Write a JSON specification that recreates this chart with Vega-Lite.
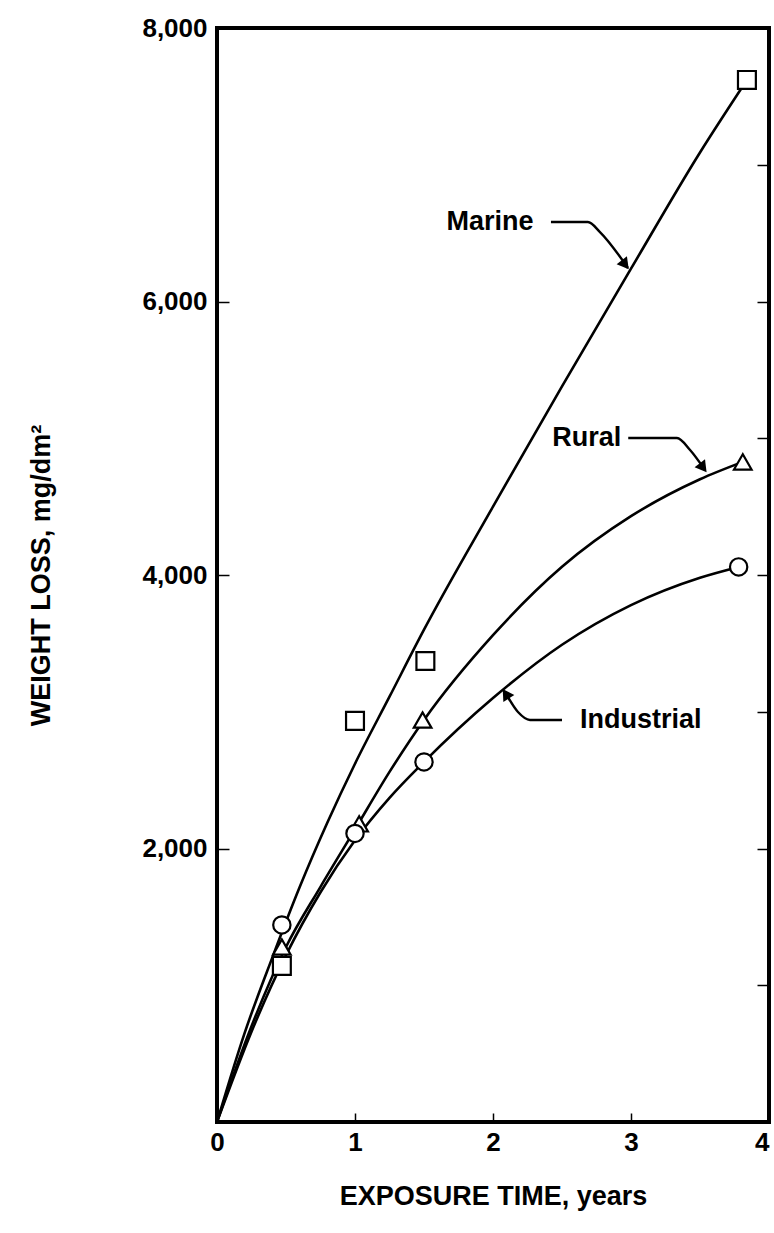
{
  "$schema": "https://vega.github.io/schema/vega-lite/v6.json",
  "width": 552,
  "height": 1094,
  "autosize": {"type": "none"},
  "padding": {"left": 217, "top": 28, "right": 5, "bottom": 111},
  "background": "white",
  "config": {
    "view": {"stroke": "black", "strokeWidth": 4},
    "font": "Liberation Sans",
    "axis": {
      "domain": false,
      "grid": false,
      "tickColor": "black",
      "labelFont": "Liberation Sans",
      "labelFontWeight": "bold",
      "labelColor": "black",
      "titleFont": "Liberation Sans",
      "titleFontWeight": "bold",
      "titleColor": "black"
    }
  },
  "datasets": {
    "curves": [
      {"series": "Marine", "x": 0, "y": 0},
      {"series": "Marine", "x": 0.2, "y": 650},
      {"series": "Marine", "x": 0.4, "y": 1200},
      {"series": "Marine", "x": 0.6, "y": 1720},
      {"series": "Marine", "x": 0.8, "y": 2190},
      {"series": "Marine", "x": 1.0, "y": 2620},
      {"series": "Marine", "x": 1.25, "y": 3110},
      {"series": "Marine", "x": 1.5, "y": 3600},
      {"series": "Marine", "x": 2.0, "y": 4500},
      {"series": "Marine", "x": 2.5, "y": 5380},
      {"series": "Marine", "x": 3.0, "y": 6240},
      {"series": "Marine", "x": 3.5, "y": 7090},
      {"series": "Marine", "x": 3.84, "y": 7620},
      {"series": "Rural", "x": 0, "y": 0},
      {"series": "Rural", "x": 0.25, "y": 700},
      {"series": "Rural", "x": 0.5, "y": 1280},
      {"series": "Rural", "x": 0.75, "y": 1720},
      {"series": "Rural", "x": 1.0, "y": 2140},
      {"series": "Rural", "x": 1.25, "y": 2560},
      {"series": "Rural", "x": 1.5, "y": 2940},
      {"series": "Rural", "x": 2.0, "y": 3560},
      {"series": "Rural", "x": 2.5, "y": 4060},
      {"series": "Rural", "x": 3.0, "y": 4430},
      {"series": "Rural", "x": 3.5, "y": 4700},
      {"series": "Rural", "x": 3.81, "y": 4827},
      {"series": "Industrial", "x": 0, "y": 0},
      {"series": "Industrial", "x": 0.25, "y": 660},
      {"series": "Industrial", "x": 0.5, "y": 1220},
      {"series": "Industrial", "x": 0.75, "y": 1680},
      {"series": "Industrial", "x": 1.0, "y": 2060},
      {"series": "Industrial", "x": 1.25, "y": 2370},
      {"series": "Industrial", "x": 1.5, "y": 2633},
      {"series": "Industrial", "x": 2.0, "y": 3100},
      {"series": "Industrial", "x": 2.5, "y": 3490},
      {"series": "Industrial", "x": 3.0, "y": 3780},
      {"series": "Industrial", "x": 3.5, "y": 3980},
      {"series": "Industrial", "x": 3.78, "y": 4059}
    ],
    "measured": [
      {"series": "Marine", "x": 0.47, "y": 1141},
      {"series": "Marine", "x": 1.0, "y": 2933},
      {"series": "Marine", "x": 1.51, "y": 3371},
      {"series": "Marine", "x": 3.84, "y": 7620},
      {"series": "Rural", "x": 0.47, "y": 1280},
      {"series": "Rural", "x": 1.03, "y": 2180},
      {"series": "Rural", "x": 1.49, "y": 2940},
      {"series": "Rural", "x": 3.81, "y": 4827},
      {"series": "Industrial", "x": 0.47, "y": 1441},
      {"series": "Industrial", "x": 1.0, "y": 2110},
      {"series": "Industrial", "x": 1.5, "y": 2633},
      {"series": "Industrial", "x": 3.78, "y": 4059}
    ],
    "labels": [
      {"text": "Marine", "x": 1.978, "y": 6581},
      {"text": "Rural", "x": 2.68, "y": 5002},
      {"text": "Industrial", "x": 3.07, "y": 2940}
    ],
    "leaders": [
      {"id": "Marine", "o": 1, "x": 2.42, "y": 6581},
      {"id": "Marine", "o": 2, "x": 2.688, "y": 6581},
      {"id": "Marine", "o": 3, "x": 2.775, "y": 6508},
      {"id": "Marine", "o": 4, "x": 2.978, "y": 6245},
      {"id": "Rural", "o": 1, "x": 2.98, "y": 5002},
      {"id": "Rural", "o": 2, "x": 3.333, "y": 5002},
      {"id": "Rural", "o": 3, "x": 3.428, "y": 4914},
      {"id": "Rural", "o": 4, "x": 3.536, "y": 4768},
      {"id": "Industrial", "o": 1, "x": 2.5, "y": 2940},
      {"id": "Industrial", "o": 2, "x": 2.268, "y": 2940},
      {"id": "Industrial", "o": 3, "x": 2.181, "y": 2998},
      {"id": "Industrial", "o": 4, "x": 2.087, "y": 3144}
    ],
    "heads": [
      {"id": "Marine", "x": 2.95, "y": 6280, "angle": 142},
      {"id": "Rural", "x": 3.515, "y": 4795, "angle": 143},
      {"id": "Industrial", "x": 2.1, "y": 3120, "angle": 327}
    ],
    "rightTicks": [
      {"y": 1000}, {"y": 2000}, {"y": 3000}, {"y": 4000}, {"y": 5000}, {"y": 6000}, {"y": 7000}
    ]
  },
  "resolve": {"scale": {"y": "independent"}},
  "layer": [
    {
      "data": {"name": "curves"},
      "mark": {"type": "line", "color": "black", "strokeWidth": 2.6, "interpolate": "monotone", "clip": true},
      "encoding": {
        "x": {
          "field": "x", "type": "quantitative",
          "scale": {"domain": [0, 4], "nice": false, "zero": false},
          "axis": {
            "values": [0, 1, 2, 3, 4],
            "format": "d",
            "title": "EXPOSURE TIME, years",
            "labelFontSize": 26,
            "titleFontSize": 27,
            "tickSize": -9,
            "tickWidth": 1.5,
            "labelPadding": 16,
            "titlePadding": 28,
            "labelFlush": false,
            "labelAlign": {"condition": {"test": "datum.value === 4", "value": "right"}, "value": "center"}
          }
        },
        "y": {
          "field": "y", "type": "quantitative",
          "scale": {"domain": [0, 8000], "nice": false},
          "axis": {
            "orient": "left",
            "values": [2000, 4000, 6000, 8000],
            "format": ",.0f",
            "title": "WEIGHT LOSS, mg/dm²",
            "labelFontSize": 26,
            "titleFontSize": 27,
            "tickSize": -12,
            "tickWidth": 1.5,
            "labelPadding": 22,
            "titlePadding": 86,
            "labelFlush": false
          }
        },
        "detail": {"field": "series"}
      }
    },
    {
      "data": {"name": "rightTicks"},
      "mark": {"type": "point", "opacity": 0},
      "encoding": {
        "y": {
          "field": "y", "type": "quantitative",
          "scale": {"domain": [0, 8000], "nice": false},
          "axis": {
            "orient": "right",
            "values": [1000, 2000, 3000, 4000, 5000, 6000, 7000],
            "labels": false,
            "title": null,
            "tickSize": -12,
            "tickWidth": 1.5
          }
        }
      }
    },
    {
      "data": {"name": "leaders"},
      "mark": {"type": "line", "color": "black", "strokeWidth": 2.4, "interpolate": "monotone"},
      "encoding": {
        "x": {"field": "x", "type": "quantitative"},
        "y": {"field": "y", "type": "quantitative", "scale": {"domain": [0, 8000], "nice": false}, "axis": null},
        "detail": {"field": "id"},
        "order": {"field": "o"}
      }
    },
    {
      "data": {"name": "heads"},
      "mark": {"type": "point", "shape": "triangle", "filled": true, "color": "black", "size": 170, "opacity": 1},
      "encoding": {
        "x": {"field": "x", "type": "quantitative"},
        "y": {"field": "y", "type": "quantitative", "scale": {"domain": [0, 8000], "nice": false}, "axis": null},
        "angle": {"field": "angle", "type": "quantitative", "scale": null}
      }
    },
    {
      "data": {"name": "measured"},
      "mark": {"type": "point", "filled": true, "fill": "white", "stroke": "black", "strokeWidth": 2.2, "opacity": 1},
      "encoding": {
        "x": {"field": "x", "type": "quantitative"},
        "y": {"field": "y", "type": "quantitative", "scale": {"domain": [0, 8000], "nice": false}, "axis": null},
        "shape": {
          "field": "series", "type": "nominal",
          "scale": {"domain": ["Marine", "Rural", "Industrial"], "range": ["square", "triangle-up", "circle"]},
          "legend": null
        },
        "size": {
          "field": "series", "type": "nominal",
          "scale": {"domain": ["Marine", "Rural", "Industrial"], "range": [320, 300, 460]},
          "legend": null
        }
      }
    },
    {
      "data": {"name": "labels"},
      "mark": {"type": "text", "font": "Liberation Sans", "fontWeight": "bold", "fontSize": 27, "color": "black", "align": "center", "baseline": "middle"},
      "encoding": {
        "x": {"field": "x", "type": "quantitative"},
        "y": {"field": "y", "type": "quantitative", "scale": {"domain": [0, 8000], "nice": false}, "axis": null},
        "text": {"field": "text"}
      }
    }
  ]
}
